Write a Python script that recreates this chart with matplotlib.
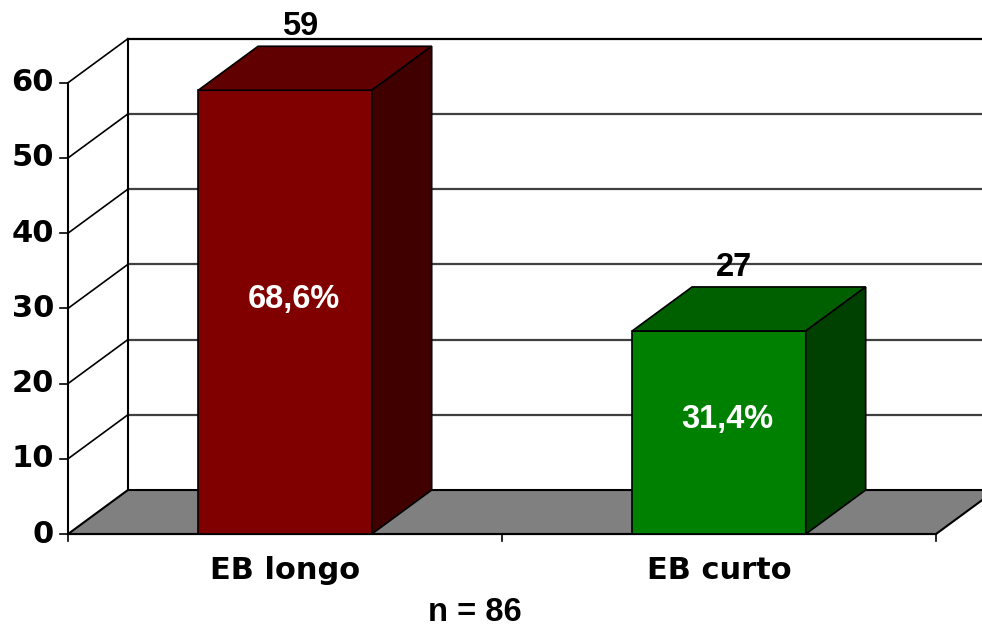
import matplotlib
matplotlib.use("Agg")
import matplotlib.pyplot as plt
from matplotlib.patches import Polygon

# dados
categorias = ["EB longo", "EB curto"]
valores = [59, 27]
percentuais = ["68,6%", "31,4%"]
cores_frente = ["#800000", "#008000"]
cores_topo = ["#600000", "#006000"]
cores_lado = ["#400000", "#004000"]
ticks_y = [0, 10, 20, 30, 40, 50, 60]
rodape = "n = 86"

# geometria do "3D" (em unidades de dados)
largura = 0.4      # largura frontal da barra
dx = 0.138         # deslocamento de profundidade em x
dy = 5.85          # deslocamento de profundidade em y
x0, x1 = -0.5, 1.5  # limites do eixo frontal
ymax = ticks_y[-1]

fonte_rotulo = "Liberation Sans"
fonte_eixo = "DejaVu Sans"
tam_rotulo = 23.5

fig = plt.figure(figsize=(9.82, 6.26), dpi=100)
ax = fig.add_axes([0, 0, 1, 1])
ax.set_xlim(-0.6567, 1.606)
ax.set_ylim(-12.23, 71.0)
ax.axis("off")

# piso cinza
piso = Polygon([(x0, 0), (x1, 0), (x1 + dx, dy), (x0 + dx, dy)],
               closed=True, facecolor="#808080", edgecolor="black", lw=1.5, zorder=1)
ax.add_patch(piso)

# grades da parede do fundo e da parede lateral
for t in ticks_y[1:]:
    cor = "black" if t == ymax else "#404040"
    ax.plot([x0 + dx, 1.7], [t + dy, t + dy], color=cor, lw=1.6, zorder=1)
    ax.plot([x0, x0 + dx], [t, t + dy], color="black", lw=1.2, zorder=1)
ax.plot([x0 + dx, x0 + dx], [dy, ymax + dy], color="black", lw=1.5, zorder=1)

# eixo vertical frontal com marcas
ax.plot([x0, x0], [0, ymax], color="black", lw=1.5, zorder=2)
for t in ticks_y:
    ax.plot([x0 - 0.018, x0], [t, t], color="black", lw=1.2, zorder=2)
    ax.text(x0 - 0.032, t, str(t), ha="right", va="center", fontsize=22,
            fontweight="bold", family=fonte_eixo, color="black")

# eixo horizontal frontal com marcas
ax.plot([x0, x1], [0, 0], color="black", lw=1.5, zorder=2)
for xt in [x0, 0.5, x1]:
    ax.plot([xt, xt], [0, -0.95], color="black", lw=1.2, zorder=2)

# barras
for i, (v, cf, ct, cl) in enumerate(zip(valores, cores_frente, cores_topo, cores_lado)):
    esq, dir_ = i - largura / 2, i + largura / 2
    frente = Polygon([(esq, 0), (dir_, 0), (dir_, v), (esq, v)],
                     facecolor=cf, edgecolor="black", lw=1.2, zorder=3)
    topo = Polygon([(esq, v), (dir_, v), (dir_ + dx, v + dy), (esq + dx, v + dy)],
                   facecolor=ct, edgecolor="black", lw=1.2, zorder=3)
    lado = Polygon([(dir_, 0), (dir_ + dx, dy), (dir_ + dx, v + dy), (dir_, v)],
                   facecolor=cl, edgecolor="black", lw=1.2, zorder=3)
    for p in (frente, topo, lado):
        ax.add_patch(p)
    ax.text(i + dx / 2 - 0.035, v + dy + 1.5, str(v), ha="center", va="baseline",
            fontsize=tam_rotulo, fontweight="bold", family=fonte_rotulo,
            color="black", zorder=4)
    ax.text(i + 0.02, v / 2 + dy / 2 - 1.2, percentuais[i], ha="center", va="center",
            fontsize=tam_rotulo, fontweight="bold", family=fonte_rotulo,
            color="white", zorder=4)
    ax.text(i, -4.8, categorias[i], ha="center", va="center", fontsize=22,
            fontweight="bold", family=fonte_eixo, color="black")

ax.text(0.438, -10.4, rodape, ha="center", va="center", fontsize=tam_rotulo,
        fontweight="bold", family=fonte_rotulo, color="black")

fig.savefig("out.png", dpi=100)
